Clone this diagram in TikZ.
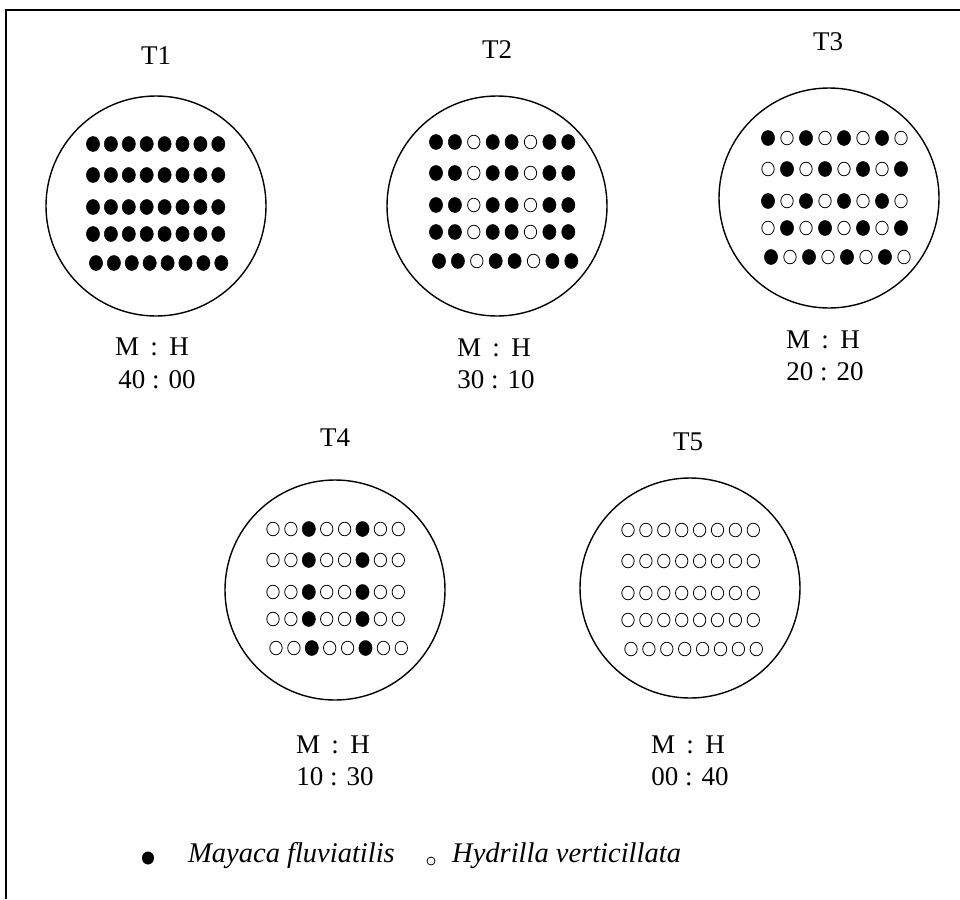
\documentclass[tikz,border=0pt]{standalone}
\usepackage{fontspec}
\setmainfont{Liberation Serif}
\begin{document}
% one dish: #1 name, #2/#3 first dot, #4 column step, #5 row pattern, #6 alternate rows
\newcommand{\sowdish}[6]{%
  \foreach \dy [count=\r] in {0,31,63,90,119} {
    \foreach \f [count=\c] in {#5} {
      \pgfmathtruncatemacro\v{mod(\f+#6*(1-mod(\r,2)),2)}
      \pgfmathsetmacro\sx{\r==5 ? 3 : 0}
      \ifnum\v=1
        \draw[mayaca] ({#2+(\c-1)*#4+\sx},{#3+\dy}) ellipse (6.6pt and 7.5pt);
      \else
        \draw[hydrilla] ({#2+(\c-1)*#4+\sx},{#3+\dy}) ellipse (6.2pt and 6.8pt);
      \fi
    }
  }}
\newcommand{\mh}{M\hspace{0.42em}:\hspace{0.42em}H}
\begin{tikzpicture}[x=1pt, y=-1pt,
    dish/.style={draw, circle, line width=1.4pt, minimum size=220pt, inner sep=0pt},
    mayaca/.style={fill=black, draw=black, line width=0.5pt},
    hydrilla/.style={fill=white, draw=black, line width=0.8pt},
    lbl/.style={font=\fontsize{27}{31}\selectfont, inner sep=0pt},
    legend/.style={font=\fontsize{28.5}{32}\selectfont\itshape, anchor=west, inner sep=0pt}]
  \useasboundingbox (0,0) rectangle (960,899);
  \draw[line width=2pt] (5.5,899) -- (5.5,10) -- (960,10);
  % dishes, first row
  \node[dish] (d1) at (156,206) {};
  \node[lbl] (n1) at (156,56) {T1};
  \node[lbl] (h1) at (152,347) {\mh};
  \node[lbl] (r1) at (157,380) {40 : 00};
  \sowdish{d1}{93}{144}{17.9}{1,1,1,1,1,1,1,1}{0}
  \node[dish] (d2) at (497,206) {};
  \node[lbl] (n2) at (497,50) {T2};
  \node[lbl] (h2) at (494,348) {\mh};
  \node[lbl] (r2) at (496,380) {30 : 10};
  \sowdish{d2}{436}{142}{18.9}{1,1,0,1,1,0,1,1}{0}
  \node[dish] (d3) at (829,198) {};
  \node[lbl] (n3) at (828,42) {T3};
  \node[lbl] (h3) at (823,340) {\mh};
  \node[lbl] (r3) at (825,372) {20 : 20};
  \sowdish{d3}{768}{138}{19}{1,0,1,0,1,0,1,0}{1}
  % dishes, second row
  \node[dish] (d4) at (335,590) {};
  \node[lbl] (n4) at (335,438) {T4};
  \node[lbl] (h4) at (333,745) {\mh};
  \node[lbl] (r4) at (335,777) {10 : 30};
  \sowdish{d4}{273}{529}{17.9}{0,0,1,0,0,1,0,0}{0}
  \node[dish] (d5) at (690,588) {};
  \node[lbl] (n5) at (688,442) {T5};
  \node[lbl] (h5) at (688,745) {\mh};
  \node[lbl] (r5) at (690,777) {00 : 40};
  \sowdish{d5}{628}{530}{17.9}{0,0,0,0,0,0,0,0}{0}
  % legend
  \fill (148,858) ellipse (6pt and 6.5pt);
  \node[legend] (lm) at (188,856) {Mayaca fluviatilis};
  \draw[line width=0.8pt] (431,861) circle (4pt);
  \node[legend] (lh) at (452,856) {Hydrilla verticillata};
\end{tikzpicture}
\end{document}
